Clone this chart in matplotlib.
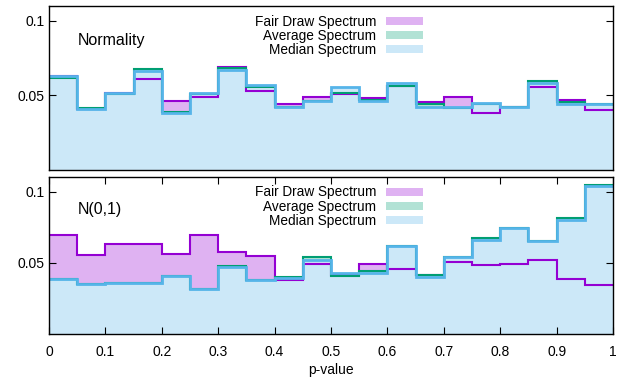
import numpy as np
import matplotlib
matplotlib.use("Agg")
import matplotlib.pyplot as plt
from matplotlib.patches import Patch

plt.rcParams['font.family'] = ['Liberation Sans', 'DejaVu Sans']

# p-value histogram bins (20 bins of width 0.05)
edges = np.linspace(0, 1, 21)

# Normality test
norm_fair = [0.0629, 0.0411, 0.0518, 0.0612, 0.0462, 0.0491, 0.0690, 0.0531, 0.0440, 0.0491,
             0.0511, 0.0480, 0.0562, 0.0453, 0.0491, 0.0382, 0.0422, 0.0560, 0.0473, 0.0400]
norm_avg = [0.0620, 0.0415, 0.0513, 0.0680, 0.0388, 0.0509, 0.0683, 0.0560, 0.0424, 0.0462,
            0.0518, 0.0470, 0.0562, 0.0442, 0.0413, 0.0442, 0.0422, 0.0594, 0.0453, 0.0440]
norm_med = [0.0629, 0.0411, 0.0518, 0.0665, 0.0384, 0.0518, 0.0674, 0.0567, 0.0424, 0.0462,
            0.0558, 0.0462, 0.0582, 0.0426, 0.0422, 0.0451, 0.0422, 0.0585, 0.0444, 0.0440]

# N(0,1) test
n01_fair = [0.0697, 0.0552, 0.0629, 0.0629, 0.0561, 0.0697, 0.0579, 0.0550, 0.0376, 0.0493,
            0.0412, 0.0493, 0.0455, 0.0416, 0.0505, 0.0484, 0.0493, 0.0522, 0.0387, 0.0342]
n01_avg = [0.0387, 0.0348, 0.0360, 0.0357, 0.0410, 0.0319, 0.0475, 0.0380, 0.0403, 0.0541,
           0.0405, 0.0439, 0.0620, 0.0416, 0.0541, 0.0676, 0.0744, 0.0654, 0.0812, 0.1043]
n01_med = [0.0387, 0.0353, 0.0357, 0.0357, 0.0410, 0.0319, 0.0471, 0.0380, 0.0390, 0.0522,
           0.0425, 0.0425, 0.0620, 0.0403, 0.0541, 0.0663, 0.0744, 0.0654, 0.0799, 0.1036]

series_names = ['Fair Draw Spectrum', 'Average Spectrum', 'Median Spectrum']
line_cols = ['#9400d3', '#009e73', '#56b4e9']
fill_cols = ['#dfb2f2', '#b2e2d5', '#cce8f8']
line_w = [1.5, 1.5, 2.0]

fig = plt.figure(figsize=(6.25, 3.77), dpi=100)
ax1 = fig.add_axes([0.0784, 0.549, 0.9024, 0.435])
ax2 = fig.add_axes([0.0784, 0.114, 0.9024, 0.4157])


def draw_panel(ax, data, label):
    for vals, fc in zip(data, fill_cols):
        ax.stairs(vals, edges, fill=True, color=fc, lw=0)
    for vals, lc, lw in zip(data, line_cols, line_w):
        ax.stairs(vals, edges, baseline=None, color=lc, lw=lw)
    ax.set_xlim(0, 1)
    ax.set_ylim(0, 0.11)
    ax.set_yticks([0.05, 0.1])
    ax.set_yticklabels(['0.05', '0.1'])
    ax.tick_params(axis='y', direction='in', right=True, length=5, labelsize=10)
    ax.text(0.051, 0.0872, label, fontsize=11.5, va='center', ha='left')
    handles = [Patch(facecolor=fc, edgecolor='none') for fc in fill_cols]
    ax.legend(handles, series_names, loc='upper right', bbox_to_anchor=(0.663, 0.948),
              frameon=False, markerfirst=False, fontsize=9.8, handlelength=2.75,
              handleheight=0.55, handletextpad=0.7, labelspacing=0.02, borderpad=0,
              borderaxespad=0)
    for s in ax.spines.values():
        s.set_linewidth(1.0)


draw_panel(ax1, [norm_fair, norm_avg, norm_med], 'Normality')
draw_panel(ax2, [n01_fair, n01_avg, n01_med], 'N(0,1)')

ax1.set_xticks([])
ax2.set_xticks(np.arange(0, 1.01, 0.1))
ax2.set_xticklabels(['0', '0.1', '0.2', '0.3', '0.4', '0.5', '0.6', '0.7', '0.8', '0.9', '1'])
ax2.tick_params(axis='x', direction='in', top=True, length=5, labelsize=10, pad=8)
ax2.set_xlabel('p-value', fontsize=10, labelpad=3)

fig.savefig('out.png', dpi=100)
